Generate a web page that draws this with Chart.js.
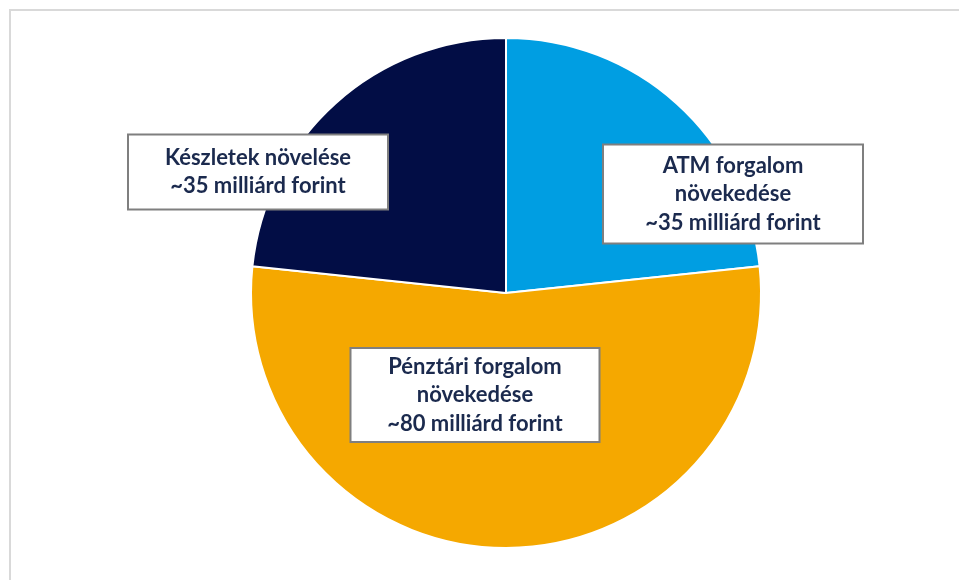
<!DOCTYPE html>
<html>
<head>
<meta charset="utf-8">
<script src="https://cdn.jsdelivr.net/npm/chart.js@4/dist/chart.umd.min.js"></script>
<style>
  html, body { margin: 0; padding: 0; background: #fff; }
  #wrap { position: relative; width: 959px; height: 580px; }
  #frame { position: absolute; left: 9px; top: 9px; right: 0; bottom: 0;
           border-left: 2px solid #d9d9d9; border-top: 2px solid #d9d9d9; }
  canvas { position: absolute; left: 0; top: 0; }
</style>
</head>
<body>
<div id="wrap">
  <div id="frame"></div>
  <canvas id="chart-pie" width="959" height="580"></canvas>
</div>
<script>
// slices in drawing order, clockwise from 12 o'clock
const categories = ['ATM forgalom növekedése', 'Pénztári forgalom növekedése', 'Készletek növelése'];
const values = [35, 80, 35]; // milliárd forint
const labelLines = [
  ['ATM forgalom', 'növekedése', '~35 milliárd forint'],
  ['Pénztári forgalom', 'növekedése', '~80 milliárd forint'],
  ['Készletek növelése', '~35 milliárd forint']
];
const colors = ['#009ee2', '#f5a800', '#020d45'];

// label box placement, offset from the pie centre (px) and box size
const boxes = [
  { dx: 227, dy: -99, w: 260, h: 99 },
  { dx: -31, dy: 102, w: 249, h: 94 },
  { dx: -248, dy: -121, w: 260, h: 75 }
];

const boxLabels = {
  id: 'boxLabels',
  afterDatasetsDraw(chart) {
    const ctx = chart.ctx;
    const arc = chart.getDatasetMeta(0).data[0];
    const cx = arc.x, cy = arc.y;
    ctx.save();
    ctx.font = 'bold 22px Lato, "Open Sans", sans-serif';
    ctx.textAlign = 'center';
    ctx.textBaseline = 'middle';
    boxes.forEach((b, i) => {
      const x = cx + b.dx, y = cy + b.dy;
      ctx.fillStyle = '#fff';
      ctx.fillRect(x - b.w / 2, y - b.h / 2, b.w, b.h);
      ctx.strokeStyle = '#7f7f7f';
      ctx.lineWidth = 2;
      ctx.strokeRect(x - b.w / 2, y - b.h / 2, b.w, b.h);
      const lines = labelLines[i];
      const lh = 28.5;
      ctx.fillStyle = '#1b2a4e';
      lines.forEach((t, j) => {
        ctx.fillText(t, x, y + (j - (lines.length - 1) / 2) * lh);
      });
    });
    ctx.restore();
  }
};

const ctx = document.getElementById('chart-pie').getContext('2d');
const myChart = new Chart(ctx, {
    type: 'pie',
    data: {
        labels: categories,
        datasets: [{
            data: values,
            backgroundColor: colors,
            borderColor: '#ffffff',
            borderWidth: 2
        }]
    },
    options: {
        responsive: false,
        animation: false,
        layout: {
            padding: { top: 37, bottom: 31, left: 53, right: 0 }
        },
        plugins: {
            legend: { display: false },
            tooltip: { enabled: false }
        }
    },
    plugins: [boxLabels]
});
</script>
</body>
</html>
